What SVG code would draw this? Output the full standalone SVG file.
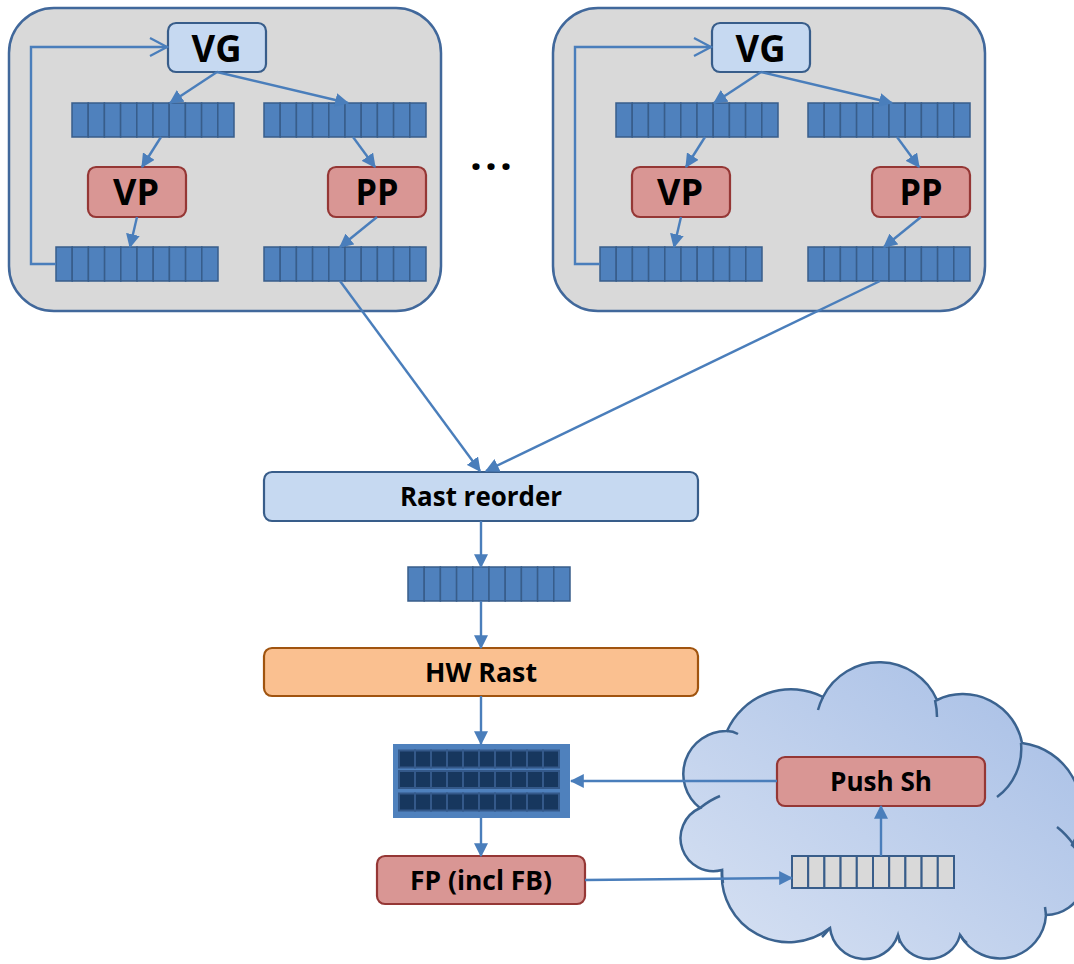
<svg xmlns="http://www.w3.org/2000/svg" xmlns:xlink="http://www.w3.org/1999/xlink" width="1074" height="964" viewBox="0 0 1074 964">
<style>
.panel{fill:#D9D9D9;stroke:#41689B;stroke-width:2.5}
.vg{fill:#C6D9F1;stroke:#385D8A;stroke-width:2.2}
.red{fill:#D99694;stroke:#953735;stroke-width:2.2}
.hw{fill:#FAC090;stroke:#A0540F;stroke-width:2.2}
.qc{fill:#4F81BD;stroke:#385D8A;stroke-width:1.5}
.qg{fill:#D9D9D9;stroke:#385D8A;stroke-width:2}
.bc{fill:#17375E;stroke:#34598A;stroke-width:2}
.cn{fill:none;stroke:#4A7EBB;stroke-width:2.4}
.cl{fill:url(#cg);stroke:#3B6390;stroke-width:2.5}
.tl{fill:none;stroke:#3B6390;stroke-width:2.5}
.t{font-family:"Open Sans","Noto Sans","Liberation Sans",sans-serif;font-weight:bold;fill:#000;text-anchor:middle}
</style>
<defs>
<linearGradient id="cg" x1="0" y1="1" x2="1" y2="0">
<stop offset="0" stop-color="#D8E2F3"/>
<stop offset="1" stop-color="#A5BDE5"/>
</linearGradient>
<marker id="ah" markerUnits="userSpaceOnUse" markerWidth="14" markerHeight="14" viewBox="0 0 12 12" refX="11" refY="6" orient="auto">
<path d="M0,0 L12,6 L0,12 z" fill="#4A7EBB"/>
</marker>
<marker id="oa" markerUnits="userSpaceOnUse" markerWidth="20" markerHeight="20" viewBox="0 0 20 20" refX="18" refY="10" orient="auto">
<path d="M1,1 L18,10 L1,19" fill="none" stroke="#4A7EBB" stroke-width="2.2"/>
</marker>
<g id="q">
<rect class="qc" x="0" y="0" width="16.2" height="34"/><rect class="qc" x="16.2" y="0" width="16.2" height="34"/><rect class="qc" x="32.4" y="0" width="16.2" height="34"/><rect class="qc" x="48.6" y="0" width="16.2" height="34"/><rect class="qc" x="64.8" y="0" width="16.2" height="34"/><rect class="qc" x="81" y="0" width="16.2" height="34"/><rect class="qc" x="97.2" y="0" width="16.2" height="34"/><rect class="qc" x="113.4" y="0" width="16.2" height="34"/><rect class="qc" x="129.6" y="0" width="16.2" height="34"/><rect class="qc" x="145.8" y="0" width="16.2" height="34"/>
</g>
<g id="brow">
<rect class="bc" x="0" y="0" width="16" height="17"/><rect class="bc" x="16" y="0" width="16" height="17"/><rect class="bc" x="32" y="0" width="16" height="17"/><rect class="bc" x="48" y="0" width="16" height="17"/><rect class="bc" x="64" y="0" width="16" height="17"/><rect class="bc" x="80" y="0" width="16" height="17"/><rect class="bc" x="96" y="0" width="16" height="17"/><rect class="bc" x="112" y="0" width="16" height="17"/><rect class="bc" x="128" y="0" width="16" height="17"/><rect class="bc" x="144" y="0" width="16" height="17"/>
</g>
</defs>

<g id="panel-left">
<rect class="panel" x="9" y="8" width="432" height="303" rx="45"/>
<g id="vg-left"><rect class="vg" x="168" y="23" width="98" height="49" rx="8"/><text class="t" x="216.5" y="62" font-size="37" textLength="50" lengthAdjust="spacingAndGlyphs">VG</text></g>
<g id="q1-left"><use xlink:href="#q" x="72" y="103"/></g>
<g id="q2-left"><use xlink:href="#q" x="264" y="103"/></g>
<g id="vp-left"><rect class="red" x="88" y="167" width="98" height="50" rx="8"/><text class="t" x="136" y="205" font-size="35" textLength="46" lengthAdjust="spacingAndGlyphs">VP</text></g>
<g id="pp-left"><rect class="red" x="328" y="167" width="98" height="50" rx="8"/><text class="t" x="377" y="205" font-size="35" textLength="43" lengthAdjust="spacingAndGlyphs">PP</text></g>
<g id="q3-left"><use xlink:href="#q" x="56" y="247"/></g>
<g id="q4-left"><use xlink:href="#q" x="264" y="247"/></g>
</g>

<g id="panel-right">
<rect class="panel" x="553" y="8" width="432" height="303" rx="45"/>
<g id="vg-right"><rect class="vg" x="712" y="23" width="98" height="49" rx="8"/><text class="t" x="760.5" y="62" font-size="37" textLength="50" lengthAdjust="spacingAndGlyphs">VG</text></g>
<g id="q1-right"><use xlink:href="#q" x="616" y="103"/></g>
<g id="q2-right"><use xlink:href="#q" x="808" y="103"/></g>
<g id="vp-right"><rect class="red" x="632" y="167" width="98" height="50" rx="8"/><text class="t" x="680" y="205" font-size="35" textLength="46" lengthAdjust="spacingAndGlyphs">VP</text></g>
<g id="pp-right"><rect class="red" x="872" y="167" width="98" height="50" rx="8"/><text class="t" x="921" y="205" font-size="35" textLength="43" lengthAdjust="spacingAndGlyphs">PP</text></g>
<g id="q3-right"><use xlink:href="#q" x="600" y="247"/></g>
<g id="q4-right"><use xlink:href="#q" x="808" y="247"/></g>
</g>

<g id="ellipsis"><text class="t" x="491" y="170" font-size="42" textLength="42">...</text></g>

<g id="cloud">
<path class="cl" d="M700,808 A43,43 0 0 1 727,731 A70,70 0 0 1 823,697 A63,63 0 0 1 937,700 A60,60 0 0 1 1022,743 A68,68 0 0 1 1072,845 A40,40 0 0 1 1046,915 A46,46 0 0 1 960,935 A32,32 0 0 1 898,935 A35,35 0 0 1 830,928 A67,67 0 0 1 722,870 A33,33 0 0 1 700,808 Z"/>
<path class="tl" d="M727,731 Q733,731 738,734 M823,697 Q820,703 818,710 M935,700 Q937,709 937,717 M1021,743 A60,60 0 0 1 997,797 M1074,845 Q1066,834 1057,827 M1046,915 L1045,907 M960,935 Q963,940 967,943 M898,935 Q899,940 900,943 M830,928 Q826,933 822,937 M722,870 Q722,877 723,883 M700,808 Q710,800 720,796"/>
</g>

<g id="rast-reorder"><rect class="vg" x="264" y="472" width="434" height="49" rx="8"/><text class="t" x="481" y="506" font-size="26" textLength="162" lengthAdjust="spacingAndGlyphs">Rast reorder</text></g>
<g id="q-mid"><use xlink:href="#q" x="408" y="567"/></g>
<g id="hw-rast"><rect class="hw" x="264" y="648" width="434" height="48" rx="8"/><text class="t" x="481" y="682" font-size="26" textLength="112" lengthAdjust="spacingAndGlyphs">HW Rast</text></g>
<g id="buffer">
<rect x="393" y="744" width="177" height="74" fill="#4F81BD"/>
<use xlink:href="#brow" x="399" y="750.5"/>
<use xlink:href="#brow" x="399" y="771"/>
<use xlink:href="#brow" x="399" y="793.5"/>
</g>
<g id="fp"><rect class="red" x="377" y="856" width="208" height="48" rx="8"/><text class="t" x="481" y="890" font-size="26" textLength="142" lengthAdjust="spacingAndGlyphs">FP (incl FB)</text></g>
<g id="push-sh"><rect class="red" x="777" y="757" width="208" height="49" rx="8"/><text class="t" x="881" y="791" font-size="26" textLength="102" lengthAdjust="spacingAndGlyphs">Push Sh</text></g>
<g id="q-gray">
<rect class="qg" x="792" y="856" width="16.2" height="32"/><rect class="qg" x="808.2" y="856" width="16.2" height="32"/><rect class="qg" x="824.4" y="856" width="16.2" height="32"/><rect class="qg" x="840.6" y="856" width="16.2" height="32"/><rect class="qg" x="856.8" y="856" width="16.2" height="32"/><rect class="qg" x="873" y="856" width="16.2" height="32"/><rect class="qg" x="889.2" y="856" width="16.2" height="32"/><rect class="qg" x="905.4" y="856" width="16.2" height="32"/><rect class="qg" x="921.6" y="856" width="16.2" height="32"/><rect class="qg" x="937.8" y="856" width="16.2" height="32"/>
</g>

<g id="connectors">
<path class="cn" d="M217,72 L170,103" marker-end="url(#ah)"/>
<path class="cn" d="M217,72 L348,103" marker-end="url(#ah)"/>
<path class="cn" d="M161,137 L142,167" marker-end="url(#ah)"/>
<path class="cn" d="M353,137 L375,167" marker-end="url(#ah)"/>
<path class="cn" d="M137,217 L130,247" marker-end="url(#ah)"/>
<path class="cn" d="M377,217 L340,247" marker-end="url(#ah)"/>
<path class="cn" d="M56,264 L31,264 L31,47 L167,47" marker-end="url(#oa)"/>
<path class="cn" d="M761,72 L714,103" marker-end="url(#ah)"/>
<path class="cn" d="M761,72 L892,103" marker-end="url(#ah)"/>
<path class="cn" d="M705,137 L686,167" marker-end="url(#ah)"/>
<path class="cn" d="M897,137 L919,167" marker-end="url(#ah)"/>
<path class="cn" d="M681,217 L674,247" marker-end="url(#ah)"/>
<path class="cn" d="M921,217 L884,247" marker-end="url(#ah)"/>
<path class="cn" d="M600,264 L575,264 L575,47 L711,47" marker-end="url(#oa)"/>
<path class="cn" d="M340,281 L480,471" marker-end="url(#ah)"/>
<path class="cn" d="M880,281 L486,471" marker-end="url(#ah)"/>
<path class="cn" d="M481,521 L481,567" marker-end="url(#ah)"/>
<path class="cn" d="M481,601 L481,648" marker-end="url(#ah)"/>
<path class="cn" d="M481,696 L481,744" marker-end="url(#ah)"/>
<path class="cn" d="M481,818 L481,856" marker-end="url(#ah)"/>
<path class="cn" d="M585,880 L792,878" marker-end="url(#ah)"/>
<path class="cn" d="M881,856 L881,806" marker-end="url(#ah)"/>
<path class="cn" d="M777,781 L571,781" marker-end="url(#ah)"/>
</g>
</svg>
